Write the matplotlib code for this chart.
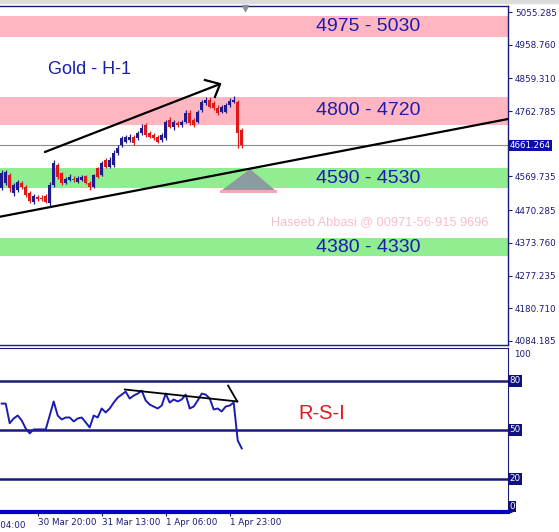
import matplotlib.pyplot as plt
from matplotlib.patches import Rectangle, Polygon
from matplotlib.transforms import blended_transform_factory as blend

# ---- data (hourly gold candles, bar index = hour) ----
opens = [4535.7, 4550.5, 4574.1, 4521.0, 4529.8, 4550.5, 4538.7, 4521.0, 4494.4, 4509.2,
         4506.2, 4512.1, 4491.5, 4544.6, 4603.6, 4580.0, 4550.5, 4559.4, 4562.3, 4553.4,
         4559.4, 4571.2, 4550.5, 4538.7, 4594.8, 4574.1, 4618.4, 4597.7, 4603.6, 4639.1,
         4662.6, 4671.5, 4677.4, 4686.3, 4683.3, 4698.1, 4721.7, 4698.1, 4692.2, 4686.3,
         4677.4, 4683.3, 4736.5, 4715.8, 4727.6, 4721.7, 4730.6, 4757.1, 4736.5, 4730.6,
         4766.0, 4786.7, 4795.5, 4786.7, 4771.9, 4760.1, 4760.1, 4780.7, 4789.6, 4789.6,
         4707.0]
closes = [4580.0, 4583.0, 4535.7, 4544.6, 4553.4, 4538.7, 4515.1, 4497.4, 4512.1, 4503.3,
          4503.3, 4494.4, 4544.6, 4609.5, 4568.2, 4550.5, 4562.3, 4568.2, 4559.4, 4565.3,
          4568.2, 4550.5, 4538.7, 4574.1, 4568.2, 4609.5, 4597.7, 4618.4, 4639.1, 4653.8,
          4683.3, 4686.3, 4686.3, 4668.6, 4698.1, 4712.9, 4692.2, 4686.3, 4683.3, 4671.5,
          4692.2, 4730.6, 4715.8, 4730.6, 4721.7, 4730.6, 4757.1, 4727.6, 4721.7, 4760.1,
          4789.6, 4795.5, 4774.8, 4771.9, 4757.1, 4774.8, 4780.7, 4792.6, 4795.5, 4698.1,
          4661.264]
highs = [4588.9, 4588.9, 4580.0, 4550.5, 4559.4, 4556.4, 4544.6, 4526.9, 4518.0, 4515.1,
         4515.1, 4518.0, 4553.4, 4618.4, 4609.5, 4583.0, 4568.2, 4577.1, 4571.2, 4571.2,
         4574.1, 4574.1, 4556.4, 4577.1, 4597.7, 4615.5, 4624.3, 4627.2, 4647.9, 4662.6,
         4689.2, 4692.2, 4695.1, 4692.2, 4704.0, 4724.7, 4727.6, 4704.0, 4698.1, 4692.2,
         4698.1, 4736.5, 4745.3, 4736.5, 4733.5, 4736.5, 4766.0, 4766.0, 4742.4, 4766.0,
         4795.5, 4804.4, 4804.4, 4792.6, 4780.7, 4780.7, 4786.7, 4801.4, 4807.3, 4795.5,
         4712.9]
lows = [4529.8, 4544.6, 4523.9, 4512.1, 4523.9, 4532.8, 4509.2, 4491.5, 4488.5, 4497.4,
        4497.4, 4491.5, 4479.6, 4538.7, 4562.3, 4544.6, 4547.5, 4556.4, 4553.4, 4550.5,
        4556.4, 4547.5, 4529.8, 4535.7, 4565.3, 4571.2, 4594.8, 4594.8, 4597.7, 4633.2,
        4656.7, 4668.6, 4671.5, 4662.6, 4677.4, 4692.2, 4686.3, 4683.3, 4677.4, 4668.6,
        4671.5, 4677.4, 4712.9, 4707.0, 4715.8, 4715.8, 4727.6, 4721.7, 4715.8, 4727.6,
        4760.1, 4780.7, 4771.9, 4766.0, 4751.2, 4757.1, 4757.1, 4774.8, 4786.7, 4653.8,
        4653.8]
rsi = [66.0, 66.0, 54.0, 56.9, 58.7, 55.7, 50.8, 47.8, 50.2, 50.2,
       50.2, 50.2, 58.7, 67.3, 58.7, 56.3, 57.5, 57.5, 55.1, 56.9,
       57.5, 54.5, 51.4, 58.7, 57.5, 63.0, 60.6, 63.0, 66.6, 69.7,
       71.5, 73.3, 69.1, 70.9, 72.1, 73.9, 67.9, 65.4, 64.2, 63.0,
       64.8, 72.1, 66.6, 68.5, 67.3, 68.5, 71.5, 63.0, 64.2, 67.9,
       72.1, 71.5, 69.1, 62.4, 63.0, 61.2, 64.2, 64.8, 66.6, 43.5,
       38.6]

price_ticks = [5055.285, 4958.760, 4859.310, 4762.785, 4569.735, 4470.285,
               4373.760, 4277.235, 4180.710, 4084.185]
last_price = 4661.264
time_ticks = [9, 25, 41, 57]
time_labels = ['30 Mar 20:00', '31 Mar 13:00', '1 Apr 06:00', '1 Apr 23:00']
first_label = (-8.6, '30 Mar 04:00')

zones = [(4982, 5043), (4722, 4805), (4535, 4595), (4335, 4388)]
zone_labels = ['4975 - 5030', '4800 - 4720', '4590 - 4530', '4380 - 4330']
zone_colors = ['#ffb6c1', '#ffb6c1', '#90ee90', '#90ee90']

trend_up = ([10.8, 54.6], [4642.0, 4842.7])
arrow_head = ([50.8, 54.6, 53.3], [4854.5, 4842.7, 4804.4])
trend_low = ([-0.425, 126.575], [4451.0, 4739.4])
tri = [(55.1, 4529.8), (62.1, 4591.8), (68.3, 4529.8)]
rsi_div = ([30.8, 58.9], [74.6, 67.3])
rsi_stroke = ([56.6, 58.9], [77.0, 67.3])
rsi_levels = [80, 50, 20]

NAVY = '#1a1a78'
W, H = 559, 532


def box(l, t, r, b):
  return [l / W, 1 - b / H, (r - l) / W, (b - t) / H]


fig = plt.figure(figsize=(W / 100, H / 100), dpi=100)
fig.patches.append(Rectangle((0, 1 - 3 / H), 1, 3 / H, transform=fig.transFigure,
                             color='#dcdcdc', zorder=0))
ax = fig.add_axes(box(0, 5.5, 508, 345))
rx = fig.add_axes(box(0, 348, 508, 511.5), sharex=ax)

# ---- price panel ----
ax.set_xlim(-0.425, 126.575)
ax.set_ylim(4072.3, 5074.5)
for (lo, hi), lab, c in zip(zones, zone_labels, zone_colors):
  ax.axhspan(lo, hi, color=c, lw=0, zorder=0)
  ax.text(368 / 508, (lo + hi) / 2, lab, transform=blend(ax.transAxes, ax.transData),
          ha='center', va='center', fontsize=14, color='#1c1cae',
          family='Liberation Sans', zorder=5)

ax.axhline(last_price, color='#8c8c8c', lw=0.8, zorder=1)

for i in range(len(opens)):
  o, c = opens[i], closes[i]
  col = '#1c1c90' if c >= o else '#e01818'
  ax.vlines(i, lows[i], highs[i], color=col, lw=0.9, zorder=3)
  ax.bar(i, max(abs(c - o), 1.5), bottom=min(o, c), width=0.65, color=col, lw=0, zorder=4)

ax.add_patch(Rectangle((54.6, 4520.5), 14.2, 9.3, color='#f2a9b6', lw=0, zorder=2))
ax.add_patch(Polygon(tri, closed=True, color='#8d9aa0', lw=0, zorder=2))

ax.plot(*trend_up, color='black', lw=1.6, zorder=6, solid_capstyle='round')
ax.plot(*arrow_head, color='black', lw=1.6, zorder=6)
ax.plot(*trend_low, color='black', lw=1.6, zorder=6)
ax.plot(60.8, 5066, marker='v', ms=5, color='#8a8f99', clip_on=False, zorder=7)

ax.text(90 / 508, 4887, 'Gold - H-1', transform=blend(ax.transAxes, ax.transData),
        ha='center', va='center', fontsize=13, color='#1c1cae', family='Liberation Sans')
ax.text(380 / 508, 4435, 'Haseeb Abbasi @ 00971-56-915 9696',
        transform=blend(ax.transAxes, ax.transData), ha='center', va='center',
        fontsize=9.2, color='#f5bfcb', family='Liberation Sans', zorder=1)

ax.yaxis.tick_right()
ax.set_yticks(price_ticks)
ax.set_yticklabels(['%.3f' % v for v in price_ticks])
ax.tick_params(axis='y', direction='out', length=3, width=0.8, color=NAVY,
               labelsize=6.3, labelcolor=NAVY, pad=2)
ax.tick_params(axis='x', bottom=False, labelbottom=False)
ax.text(1.004, last_price, '%.3f' % last_price, transform=blend(ax.transAxes, ax.transData),
        ha='left', va='center', fontsize=6.3, color='white',
        bbox=dict(boxstyle='square,pad=0.15', fc='#0c0cb4', ec='none'))
ax.spines['left'].set_visible(False)
for s in ['top', 'bottom', 'right']:
  ax.spines[s].set_color(NAVY)
  ax.spines[s].set_linewidth(1)

# ---- RSI panel ----
rx.set_ylim(0, 100)
for lv in rsi_levels:
  rx.axhline(lv, color=NAVY, lw=1.8, zorder=1)
rx.plot(range(len(rsi)), rsi, color='#1c1cb0', lw=1.4, zorder=3)
rx.plot(*rsi_div, color='black', lw=1.3, zorder=4)
rx.plot(*rsi_stroke, color='black', lw=1.3, zorder=4)
rx.text(80.1, 60, 'R-S-I', ha='center', va='center', fontsize=14.5, color='#e01818',
        family='Liberation Sans')

rx.yaxis.tick_right()
rx.set_yticks([0, 20, 50, 80])
rx.set_yticklabels([])
rx.tick_params(axis='y', direction='out', length=3, color=NAVY)
for lv in [0, 20, 50, 80]:
  rx.text(1.003, lv + (3 if lv == 0 else 0), str(lv),
          transform=blend(rx.transAxes, rx.transData), ha='left', va='center',
          fontsize=6.3, color='white',
          bbox=dict(boxstyle='square,pad=0.15', fc='#10107e', ec='none'))
rx.text(1.012, 96, '100', transform=blend(rx.transAxes, rx.transData), ha='left',
        va='center', fontsize=6.3, color=NAVY)

rx.set_xticks(time_ticks)
rx.set_xticklabels(time_labels, ha='left')
rx.tick_params(axis='x', direction='out', length=3, color=NAVY, labelsize=6.3,
               labelcolor=NAVY, pad=2)
# partly hidden label at the left edge, as in the terminal screenshot
rx.text(first_label[0], -0.058, first_label[1], transform=blend(rx.transData, rx.transAxes),
        ha='left', va='top', fontsize=6.3, color=NAVY, clip_on=False)
rx.spines['left'].set_visible(False)
rx.spines['top'].set_color(NAVY)
rx.spines['right'].set_color(NAVY)
rx.spines['bottom'].set_color('#0000c8')
rx.spines['bottom'].set_linewidth(3)

fig.savefig('out.png', dpi=100, facecolor='white')
